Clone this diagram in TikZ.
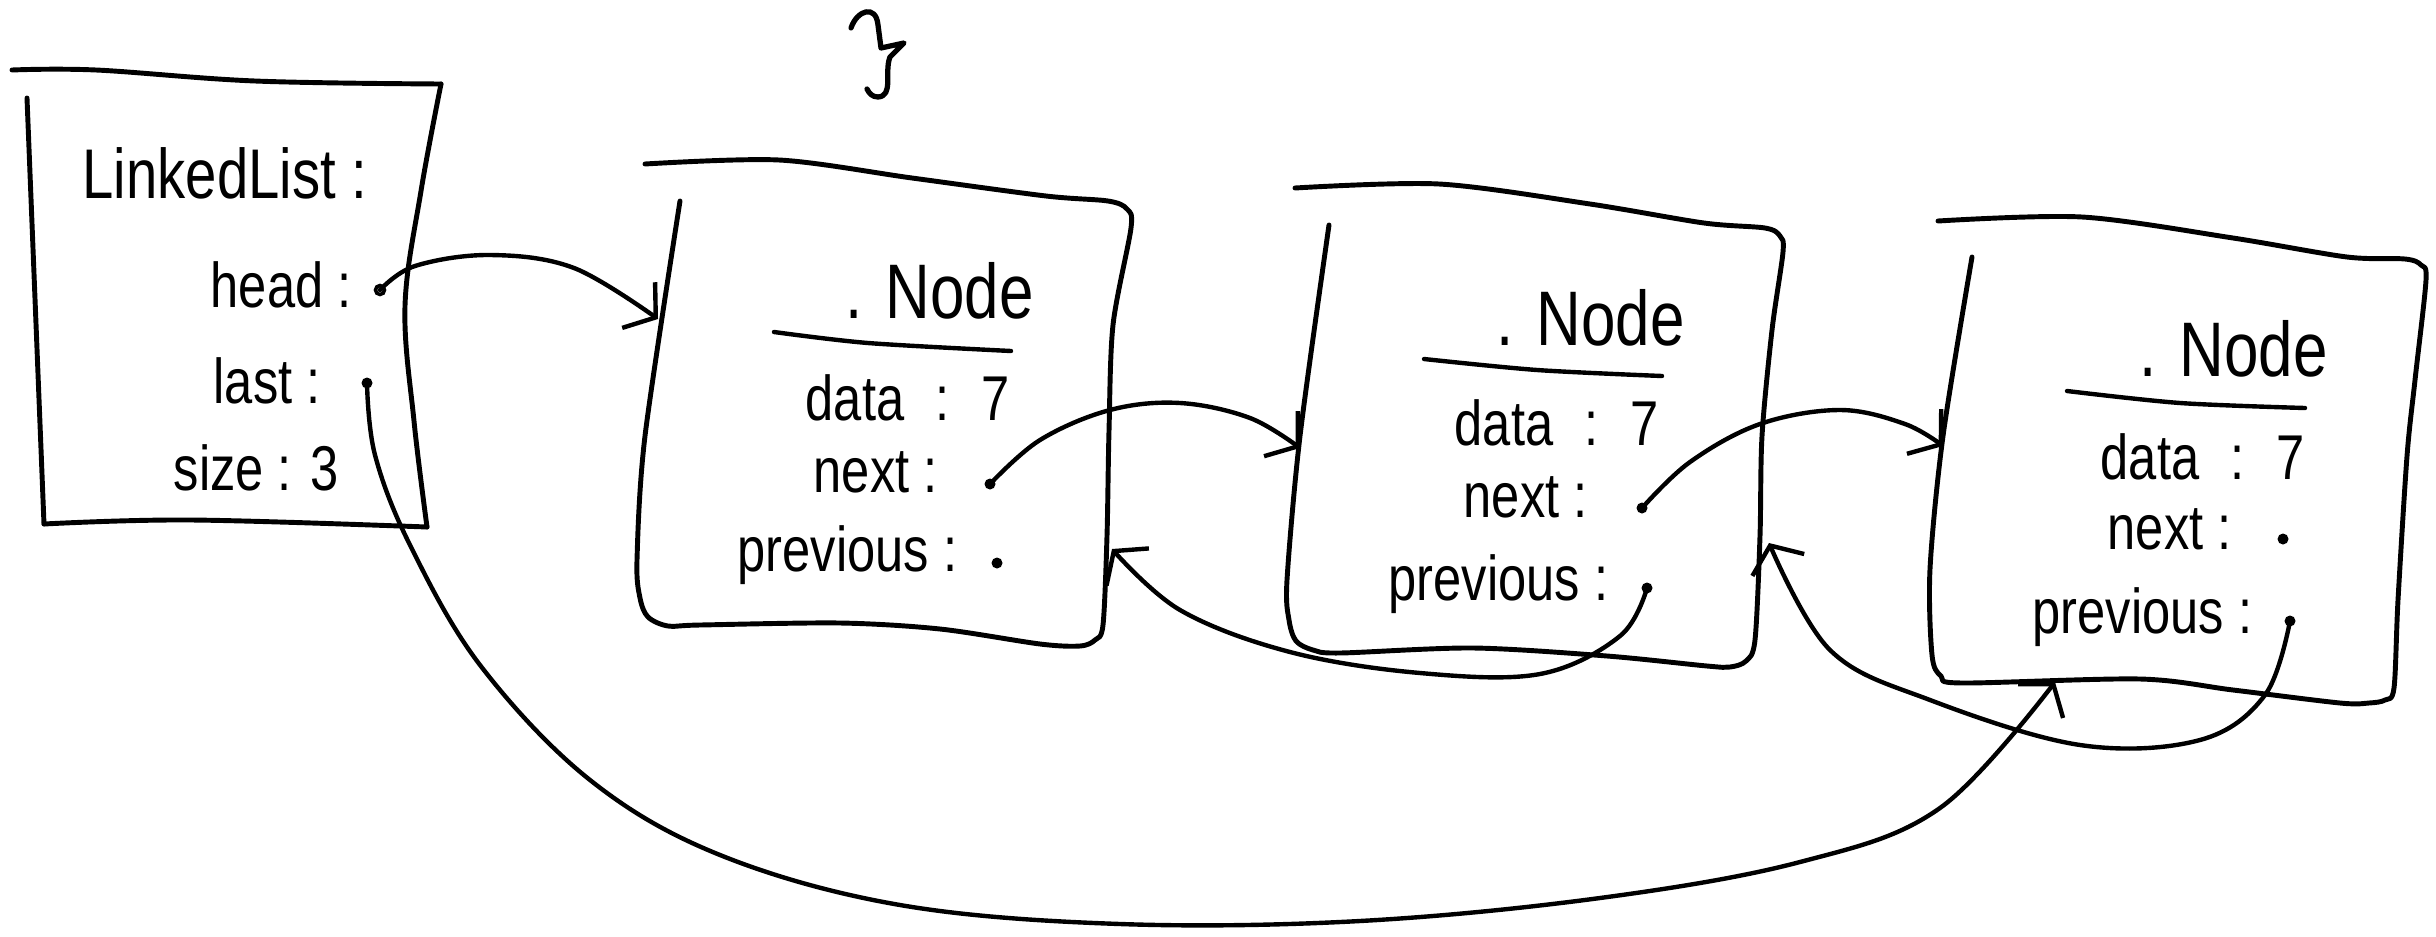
\documentclass[tikz,border=0pt]{standalone}
\usepackage{fontspec}
\setmainfont{Liberation Sans}[FakeStretch=0.8]
\usetikzlibrary{arrows.meta}
\begin{document}
\begin{tikzpicture}[x=0.01cm,y=-0.01cm,
  ink/.style={line width=1.25pt, line cap=round, line join=round},
  boxline/.style={ink, line width=1.4pt},
  conn/.style={ink, -{Straight Barb[length=6pt,width=16pt]}},
  lbl/.style={inner sep=0pt, anchor=base west, font=\fontsize{18}{20}\selectfont},
  ttl/.style={lbl, font=\fontsize{22}{24}\selectfont},
  dot/.style={circle, fill, inner sep=0pt, minimum size=0.11cm},
  odot/.style={circle, draw, line width=1pt, inner sep=0pt, minimum size=0.09cm},
  ]
\useasboundingbox[fill=white] (0,0) rectangle (2436,936);

% ---------- LinkedList box ----------
\draw[boxline] plot[smooth,tension=.6] coordinates {(12,70) (96,70) (255,81) (441,84)};
\draw[boxline] plot[smooth,tension=.6] coordinates {(441,84) (421,191) (405,306) (414,421) (427,527)};
\draw[boxline] plot[smooth,tension=.6] coordinates {(44,524) (191,520) (427,527)};
\draw[boxline] (27,98) -- (44,524);
\node[lbl, font=\fontsize{20}{22}\selectfont] (llt) at (82,198) {LinkedList :};
\node[lbl] (llh) at (210,307) {head :};
\node[lbl] (lll) at (213,403) {last :};
\node[lbl] (lls) at (173,490) {size : 3};
\node[odot] (hd) at (380,290) {};
\node[dot] (ld) at (367,383) {};

% ---------- Node 1 ----------
\draw[boxline] plot[smooth,tension=.5] coordinates {
  (645,164) (779,160) (912,178) (1046,196) (1108,201) (1127,209) (1131,228)
  (1113,325) (1109,431) (1107,536) (1103,625) (1095,640) (1080,646)
  (1040,644) (940,629) (840,623) (700,625) (668,626) (648,617) (640,598)
  (637,560) (645,436) (680,201)};
\draw[ink] plot[smooth] coordinates {(774,332) (868,343) (1011,351)};
\node[ttl] (n1t) at (845,318) {. Node};
\node[lbl] (n1d) at (805,420) {data\enspace:\enspace7};
\node[lbl] (n1x) at (813,492) {next :};
\node[lbl] (n1r) at (737,571) {previous :};
\node[dot] (n1n) at (990,484) {};
\node[dot] (n1p) at (997,563) {};

% ---------- Node 2 ----------
\draw[boxline] plot[smooth,tension=.5] coordinates {
  (1295,188) (1439,184) (1590,204) (1704,223) (1765,228) (1780,236) (1783,252)
  (1772,330) (1762,436) (1760,536) (1755,640) (1746,661) (1730,667)
  (1707,666) (1607,656) (1473,648) (1340,653) (1313,650) (1296,641) (1289,620)
  (1287,580) (1300,436) (1329,225)};
\draw[ink] plot[smooth] coordinates {(1424,359) (1537,370) (1662,376)};
\node[ttl] (n2t) at (1496,345) {. Node};
\node[lbl] (n2d) at (1454,445) {data\enspace:\enspace7};
\node[lbl] (n2x) at (1463,517) {next :};
\node[lbl] (n2r) at (1388,600) {previous :};
\node[dot] (n2n) at (1642,508) {};
\node[dot] (n2p) at (1647,588) {};

% ---------- Node 3 ----------
\draw[boxline] plot[smooth,tension=.5] coordinates {
  (1938,221) (2082,217) (2233,238) (2347,257) (2405,259) (2421,265) (2426,280)
  (2415,380) (2407,456) (2398,600) (2394,688) (2385,700) (2369,703)
  (2340,703) (2233,690) (2140,679) (1962,683) (1941,676) (1932,655)
  (1930,569) (1943,436) (1972,257)};
\draw[ink] plot[smooth] coordinates {(2067,391) (2180,403) (2305,408)};
\node[ttl] (n3t) at (2139,376) {. Node};
\node[lbl] (n3d) at (2100,479) {data\enspace:\enspace7};
\node[lbl] (n3x) at (2107,549) {next :};
\node[lbl] (n3r) at (2032,633) {previous :};
\node[dot] (n3n) at (2283,539) {};
\node[dot] (n3p) at (2290,621) {};

% ---------- stray mark ----------
\draw[ink, line width=1.5pt] (851,28) .. controls (857,10) and (876,4) .. (878,25)
  -- (881,48) -- (904,43) -- (890,57) .. controls (884,72) and (894,96) .. (878,97)
  .. controls (872,97) and (869,93) .. (867,89);

% ---------- arrow tips on boxes ----------
\coordinate (t1) at (658,319);
\coordinate (t2) at (1300,448);
\coordinate (t3) at (1943,446);
\coordinate (t4) at (1112,549);
\coordinate (t5) at (1769,543);
\coordinate (t6) at (2055,682);

% ---------- connectors ----------
\draw[conn] plot[smooth,tension=.6] coordinates {(hd.center) (415,266) (490,255) (574,268) (t1)};
\draw[conn] plot[smooth,tension=.6] coordinates {(n1n.center) (1040,440) (1110,410) (1180,403) (1250,418) (t2)};
\draw[conn] plot[smooth,tension=.6] coordinates {(n2n.center) (1690,462) (1760,424) (1840,410) (1905,424) (t3)};
\draw[conn] plot[smooth,tension=.6] coordinates {(n2p.center) (1620,636) (1540,674) (1420,673) (1290,652) (1180,610) (t4)};
\draw[conn] plot[smooth,tension=.6] coordinates {(n3p.center) (2265,695) (2200,740) (2080,745) (1930,700) (1830,650) (t5)};
\draw[conn] plot[smooth,tension=.6] coordinates {(ld.center) (375,455) (410,545) (480,665) (590,780) (720,855) (900,905) (1120,924) (1360,921) (1600,898) (1800,862) (1940,808) (t6)};
\end{tikzpicture}
\end{document}
